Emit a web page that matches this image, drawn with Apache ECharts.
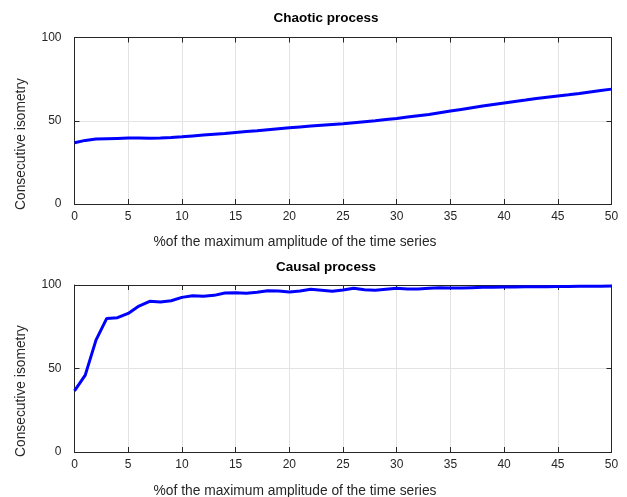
<!DOCTYPE html>
<html>
<head>
<meta charset="utf-8">
<script src="https://cdn.jsdelivr.net/npm/echarts@6/dist/echarts.min.js"></script>
<style>html,body{margin:0;padding:0;background:#fff}#c{width:627px;height:497px}</style>
</head>
<body>
<div id="c"></div>
<script>
const xValues = [0,1,2,3,4,5,6,7,8,9,10,11,12,13,14,15,16,17,18,19,20,21,22,23,24,25,26,27,28,29,30,31,32,33,34,35,36,37,38,39,40,41,42,43,44,45,46,47,48,49,50];
const chaotic = [36.8,38.2,39.0,39.2,39.4,39.6,39.6,39.5,39.7,40.0,40.4,40.9,41.4,41.9,42.4,43.0,43.5,44.0,44.6,45.2,45.8,46.3,46.8,47.3,47.8,48.2,48.8,49.4,50.0,50.7,51.4,52.2,53.0,53.8,54.8,55.8,56.8,57.8,58.8,59.8,60.7,61.6,62.4,63.3,64.1,64.9,65.6,66.4,67.3,68.2,69.0];
const causal = [36.6,46.0,67.0,80.0,80.4,83.0,87.4,90.2,89.8,90.6,92.6,93.6,93.2,93.8,95.2,95.4,95.1,95.6,96.6,96.4,95.8,96.4,97.4,96.8,96.2,97.0,98.0,97.2,96.8,97.4,98.0,97.6,97.6,98.0,98.4,98.2,98.2,98.4,98.6,98.6,98.8,98.8,98.9,99.0,99.0,99.1,99.1,99.2,99.2,99.3,99.4];
const xTicks = [0,5,10,15,20,25,30,35,40,45,50];
const yTicks = [0,50,100];
const titles = ['Chaotic process','Causal process'];
const xName = '%of the maximum amplitude of the time series';
const yName = 'Consecutive isometry';

const FONT = 'Liberation Sans, Arial, sans-serif';
const axisColor = '#262626';
const gridColor = '#e3e3e3';

const grids = [
  {left: 74.5, right: 15.5, top: 37.5, height: 166.5},
  {left: 74.5, right: 15.5, top: 285, height: 167}
];

function xAxes(gi) {
  return [
    {gridIndex: gi, type: 'value', min: xTicks[0], max: xTicks[xTicks.length-1], interval: xTicks[1]-xTicks[0],
     position: 'bottom',
     axisLine: {onZero: false, lineStyle: {color: axisColor, width: 1}},
     axisTick: {inside: true, length: 5, lineStyle: {color: axisColor}},
     axisLabel: {color: '#262626', fontFamily: FONT, fontSize: 12, margin: 7},
     splitLine: {show: true, lineStyle: {color: gridColor, width: 1}}},
    {gridIndex: gi, type: 'value', min: xTicks[0], max: xTicks[xTicks.length-1], interval: xTicks[1]-xTicks[0],
     position: 'top',
     axisLine: {onZero: false, lineStyle: {color: axisColor, width: 1}},
     axisTick: {inside: true, length: 5, lineStyle: {color: axisColor}},
     axisLabel: {show: false}, splitLine: {show: false}}
  ];
}
function yAxes(gi) {
  return [
    {gridIndex: gi, type: 'value', min: yTicks[0], max: yTicks[yTicks.length-1], interval: yTicks[1]-yTicks[0],
     position: 'left',
     axisLine: {show: true, onZero: false, lineStyle: {color: axisColor, width: 1}},
     axisTick: {show: true, inside: true, length: 5, lineStyle: {color: axisColor}},
     axisLabel: {color: '#262626', fontFamily: FONT, fontSize: 12, margin: 13},
     splitLine: {show: true, lineStyle: {color: gridColor, width: 1}}},
    {gridIndex: gi, type: 'value', min: yTicks[0], max: yTicks[yTicks.length-1], interval: yTicks[1]-yTicks[0],
     position: 'right',
     axisLine: {show: true, onZero: false, lineStyle: {color: axisColor, width: 1}},
     axisTick: {show: true, inside: true, length: 5, lineStyle: {color: axisColor}},
     axisLabel: {show: false}, splitLine: {show: false}}
  ];
}

const titleStyle = {fontFamily: FONT, fontSize: 13.5, fontWeight: 'bold', color: '#000'};
const nameStyle = {fontFamily: FONT, fontSize: 13.8, fontWeight: 'normal', color: '#262626'};

const chart = echarts.init(document.getElementById('c'), null, {renderer: 'canvas'});
const option = {
  animation: false,
  backgroundColor: '#fff',
  title: [
    {text: titles[0], left: 326, top: 11, padding: 0, textAlign: 'center', textStyle: titleStyle},
    {text: xName, left: 295, top: 235, padding: 0, textAlign: 'center', textStyle: nameStyle},
    {text: titles[1], left: 326, top: 260, padding: 0, textAlign: 'center', textStyle: titleStyle},
    {text: xName, left: 295, top: 484, padding: 0, textAlign: 'center', textStyle: nameStyle}
  ],
  graphic: [
    {type: 'text', x: 21, y: 144, rotation: Math.PI/2, style: {text: yName, font: '13.8px ' + FONT, fill: '#262626', align: 'center', verticalAlign: 'middle'}},
    {type: 'text', x: 21, y: 391, rotation: Math.PI/2, style: {text: yName, font: '13.8px ' + FONT, fill: '#262626', align: 'center', verticalAlign: 'middle'}}
  ],
  grid: grids,
  xAxis: [...xAxes(0), ...xAxes(1)],
  yAxis: [...yAxes(0), ...yAxes(1)],
  series: [
    {type: 'line', xAxisIndex: 0, yAxisIndex: 0, data: xValues.map((x,i)=>[x, chaotic[i]]), showSymbol: false, smooth: false,
     lineStyle: {color: '#0000ff', width: 3}, itemStyle: {color: '#0000ff'}},
    {type: 'line', xAxisIndex: 2, yAxisIndex: 2, data: xValues.map((x,i)=>[x, causal[i]]), showSymbol: false, smooth: false,
     lineStyle: {color: '#0000ff', width: 3}, itemStyle: {color: '#0000ff'}}
  ]
};
chart.setOption(option);
</script>
</body>
</html>
